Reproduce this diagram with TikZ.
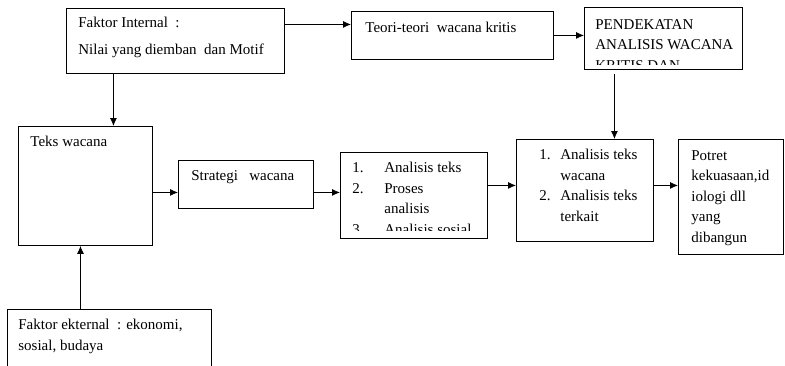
\documentclass[tikz,border=0pt]{standalone}
\usepackage{fontspec}
\setmainfont{Liberation Serif}
\usetikzlibrary{arrows.meta,positioning}

\tikzset{
  box/.style={draw, line width=0.9pt, anchor=north west, inner sep=0pt},
  txt/.style={anchor=north west, inner sep=0pt, align=left,
              font=\fontsize{15}{20.5}\selectfont,
              execute at begin node=\rule{0pt}{11pt}},
}
\newcommand{\numitem}[2]{\makebox[#1][l]{#2}}

\begin{document}
\begin{tikzpicture}[x=1pt,y=-1pt,->,>={Latex[length=8pt,width=7pt]},
                    line width=0.8pt]
	\clip (0,0) rectangle (785,365);
	% boxes
	\node[box, minimum width=218pt, minimum height=65pt]	(internal)	at (66,8)	{};
	\node[box, minimum width=202pt, minimum height=48pt]	(teori)		at (351,11)	{};
	\node[box, minimum width=158pt, minimum height=62pt]	(pend)		at (584,7)	{};
	\node[box, minimum width=134pt, minimum height=119pt]	(teks)		at (18,126)	{};
	\node[box, minimum width=135pt, minimum height=48pt]	(strategi)	at (178,160)	{};
	\node[box, minimum width=147pt, minimum height=86pt]	(ana1)		at (340,152)	{};
	\node[box, minimum width=137pt, minimum height=102pt]	(ana2)		at (516,139)	{};
	\node[box, minimum width=105pt, minimum height=115pt]	(potret)	at (678,139)	{};
	\node[box, minimum width=204pt, minimum height=80pt]	(eksternal)	at (7,309)	{};
	% texts (first baseline 11pt below the anchor)
	\node[txt] (internaltxt) at ([shift={(12pt,-9pt)}]internal.north west)
		{Faktor Internal\ \ :\\[6.5pt] Nilai yang diemban\ \ dan Motif};
	\node[txt] (teoritxt) at ([shift={(14pt,-10pt)}]teori.north west)
		{Teori-teori\ \ wacana kritis};
	\begin{scope}
		\clip ([yshift=5pt]pend.south west) rectangle (pend.north east);
		\node[txt] (pendtxt) at ([shift={(11pt,-12pt)}]pend.north west)
			{PENDEKATAN\\ ANALISIS WACANA\\ KRITIS DAN};
	\end{scope}
	\node[txt] (tekstxt) at ([shift={(12pt,-9pt)}]teks.north west)
		{Teks wacana};
	\node[txt] (strategitxt) at ([shift={(13pt,-9pt)}]strategi.north west)
		{Strategi\ \ \ wacana};
	\begin{scope}
		\clip ([yshift=8pt]ana1.south west) rectangle (ana1.north east);
		\node[txt] (ana1txt) at ([shift={(12pt,-10pt)}]ana1.north west)
			{\numitem{32pt}{1.}Analisis teks\\ \numitem{32pt}{2.}Proses\\
			 \numitem{32pt}{}analisis\\ \numitem{32pt}{3.}Analisis sosial};
	\end{scope}
	\node[txt] (ana2txt) at ([shift={(23pt,-10pt)}]ana2.north west)
		{\numitem{21pt}{1.}Analisis teks\\ \numitem{21pt}{}wacana\\
		 \numitem{21pt}{2.}Analisis teks\\ \numitem{21pt}{}terkait};
	\node[txt] (potrettxt) at ([shift={(13pt,-11pt)}]potret.north west)
		{Potret\\ kekuasaan,id\\ iologi dll\\ yang\\ dibangun};
	\node[txt] (eksternaltxt) at ([shift={(11pt,-10pt)}]eksternal.north west)
		{Faktor ekternal\ \ : ekonomi,\\ sosial, budaya};
	% arrows
	\coordinate (p1) at ([yshift=16.5pt]internal.east);
	\coordinate (p3) at ([shift={(-49pt,-4pt)}]pend.south);
	\coordinate (p4) at ([xshift=-62pt]internal.south);
	\coordinate (p5) at ([yshift=-8pt]strategi.west);
	\coordinate (p6) at ([yshift=-8pt]strategi.east);
	\coordinate (p7) at ([yshift=10pt]ana1.east);
	\coordinate (p8) at ([yshift=5pt]ana2.east);
	\coordinate (p9) at ([xshift=-29pt]eksternal.north);
	\path[->]	(p1)			edge	(p1 -| teori.west)
			(teori.east)		edge	(teori.east -| pend.west)
			(p3)			edge	(p3 |- ana2.north)
			(p4)			edge	(p4 |- teks.north)
			(teks.east |- p5)	edge	(p5)
			(p6)			edge	(p6 -| ana1.west)
			(p7)			edge	(p7 -| ana2.west)
			(p8)			edge	(p8 -| potret.west)
			(p9)			edge	(p9 |- teks.south);
\end{tikzpicture}
\end{document}
